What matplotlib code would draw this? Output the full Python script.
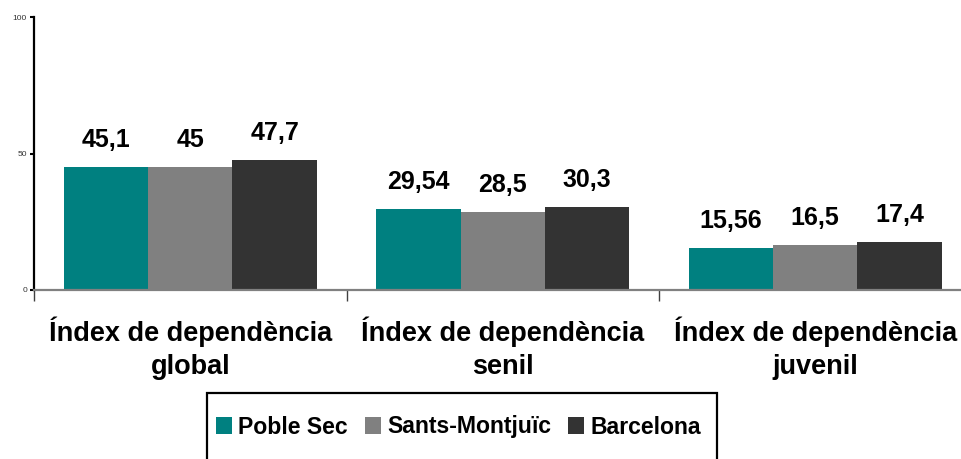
import numpy as np
import matplotlib
matplotlib.use("Agg")
import matplotlib.pyplot as plt
from matplotlib.patches import Rectangle

plt.rcParams['font.family'] = ['Liberation Sans', 'DejaVu Sans']

# dades
categories = ["Índex de dependència\nglobal", "Índex de dependència\nsenil", "Índex de dependència\njuvenil"]
series_names = ["Poble Sec", "Sants-Montjuïc", "Barcelona"]
poble_sec = [45.1, 29.54, 15.56]
sants_montjuic = [45, 28.5, 16.5]
barcelona = [47.7, 30.3, 17.4]
yticks = [0, 50, 100]

colors = ["#008080", "#808080", "#333333"]

fig = plt.figure(figsize=(9.61, 4.59), dpi=100)
ax = fig.add_axes([34 / 961, 169 / 459, 937.5 / 961, 273 / 459])

x = np.arange(len(categories))
w = 0.27
series = [poble_sec, sants_montjuic, barcelona]
for i, (vals, name, c) in enumerate(zip(series, series_names, colors)):
    bars = ax.bar(x + (i - 1) * w, vals, w, color=c, label=name)
    for b, v in zip(bars, vals):
        ax.annotate(f"{v:g}".replace(".", ","), (b.get_x() + b.get_width() / 2, v),
                    xytext=(0, 14.4), textcoords="offset points",
                    ha="center", va="baseline", fontsize=18, fontweight="bold")

ax.set_xlim(-0.5, 2.5)
ax.set_ylim(0, 100)
ax.set_yticks(yticks)
ax.tick_params(axis="y", direction="out", length=3, width=1.5, color="black",
               labelsize=6, labelcolor="#333333", pad=2)

ax.set_xticks([-0.5, 0.5, 1.5, 2.5])
ax.set_xticklabels([])
ax.tick_params(axis="x", which="major", direction="out", length=8, width=1, color="#404040")
ax.set_xticks(x, minor=True)
ax.set_xticklabels(categories, minor=True, fontsize=19.5, fontweight="bold", linespacing=1.35)
ax.tick_params(axis="x", which="minor", length=0, pad=19)

for s in ["top", "right"]:
    ax.spines[s].set_visible(False)
ax.spines["left"].set_color("black")
ax.spines["left"].set_linewidth(1.6)
ax.spines["bottom"].set_color("#808080")
ax.spines["bottom"].set_linewidth(1.6)

# llegenda sense marc; el marc es dibuixa a part perquè surt per baix
leg = fig.legend(loc="center left", bbox_to_anchor=(216 / 961, 1 - 427 / 459), ncol=3,
                 prop={"size": 16.6, "weight": "bold"}, frameon=False,
                 borderpad=0, handlelength=0.7, handleheight=0.7,
                 handletextpad=0.26, columnspacing=0.74, borderaxespad=0)
fig.add_artist(Rectangle((207 / 961, -0.05), 510 / 961, 66 / 459 + 0.05,
                         transform=fig.transFigure, fill=False,
                         edgecolor="black", linewidth=1.6))

fig.savefig("out.png", dpi=100)
